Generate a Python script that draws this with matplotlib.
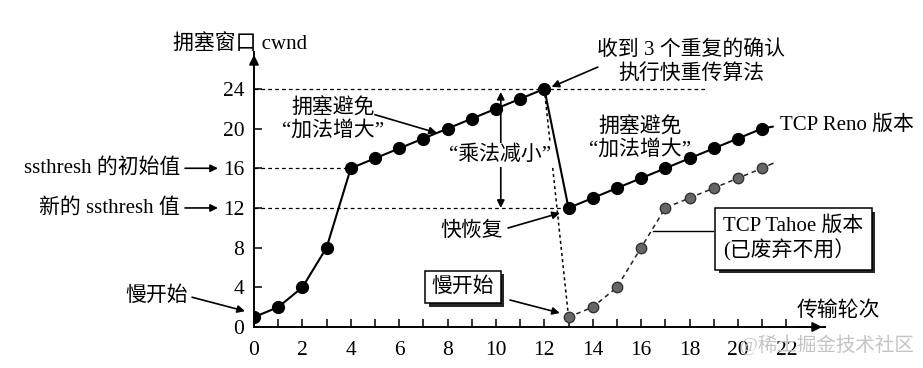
import matplotlib
matplotlib.use("Agg")
import matplotlib.pyplot as plt
import matplotlib.patheffects as pe

plt.rcParams['font.family'] = ['Liberation Serif', 'Noto Sans CJK SC', 'DejaVu Sans']
plt.rcParams['axes.unicode_minus'] = False

# ---- data ----
reno_x = [0, 1, 2, 3, 4, 5, 6, 7, 8, 9, 10, 11, 12]
reno_y = [1, 2, 4, 8, 16, 17, 18, 19, 20, 21, 22, 23, 24]
reno2_x = [13, 14, 15, 16, 17, 18, 19, 20, 21]
reno2_y = [12, 13, 14, 15, 16, 17, 18, 19, 20]
tahoe_x = [13, 14, 15, 16, 17, 18, 19, 20, 21]
tahoe_y = [1, 2, 4, 8, 12, 13, 14, 15, 16]
x_major = [0, 2, 4, 6, 8, 10, 12, 14, 16, 18, 20, 22]
x_minor = [1, 3, 5, 7, 9, 11, 13, 15, 17, 19, 21]
y_ticks = [0, 4, 8, 12, 16, 20, 24]
ssthresh_init = 16
ssthresh_new = 12
peak = 24

W, H = 923, 368
fig = plt.figure(figsize=(W / 100, H / 100), dpi=100)
ax = fig.add_axes([254 / W, 41 / H, 571 / W, 275 / H])
ax.set_xlim(0, 23.6)
ax.set_ylim(0, 27.72)
for s in ['top', 'right']:
    ax.spines[s].set_visible(False)
for s in ['left', 'bottom']:
    ax.spines[s].set_linewidth(1.4)

ax.set_xticks(x_major)
ax.set_xticks(x_minor, minor=True)
ax.set_yticks(y_ticks)
ax.tick_params(axis='both', which='both', direction='in', length=6, width=1.1,
               labelsize=15.5, colors='k')
ax.tick_params(axis='x', pad=10)
ax.tick_params(axis='y', pad=7)

# axis arrows
ax.annotate('', xy=(0, 1.0), xytext=(0, 0.93), xycoords='axes fraction',
            arrowprops=dict(arrowstyle='-|>', color='k', lw=1.4, mutation_scale=14))
ax.annotate('', xy=(1.0, 0), xytext=(0.95, 0), xycoords='axes fraction',
            arrowprops=dict(arrowstyle='-|>', color='k', lw=1.4, mutation_scale=14))

# dashed reference lines
dash = dict(color='k', lw=0.9, ls=(0, (3, 2.5)))
ax.plot([0, 18.7], [peak, peak], **dash)
ax.plot([0, 4], [ssthresh_init, ssthresh_init], **dash)
ax.plot([0, 13], [ssthresh_new, ssthresh_new], **dash)

# Reno lines
ax.plot(reno_x, reno_y, color='k', lw=1.5, zorder=3)
ax.plot([reno_x[-1], reno2_x[0]], [reno_y[-1], reno2_y[0]], color='k', lw=1.5, zorder=3)
ax.plot(reno2_x, reno2_y, color='k', lw=1.5, zorder=3)
ax.plot(reno_x, reno_y, 'o', color='k', ms=8.5, zorder=4)
ax.plot(reno2_x, reno2_y, 'o', color='k', ms=8.5, zorder=4)

# Tahoe
ax.plot([reno_x[-1], tahoe_x[0]], [reno_y[-1], tahoe_y[0]], color='k', lw=1.1,
        ls=(0, (2, 2)), zorder=3)
ax.plot(tahoe_x, tahoe_y, color='#222222', lw=1.1, ls=(0, (3, 2.5)), zorder=3)
ax.plot(tahoe_x, tahoe_y, 'o', color='#666666', mec='#333333', ms=7.5, zorder=4,
        clip_on=False)

# extensions toward labels
ax.annotate('', xy=(reno2_x[-1], reno2_y[-1]), xytext=(21.45, 20.2),
            arrowprops=dict(arrowstyle='-', color='k', lw=1.5, shrinkA=0, shrinkB=0))
ax.annotate('', xy=(tahoe_x[-1], tahoe_y[-1]), xytext=(21.45, 16.5),
            arrowprops=dict(arrowstyle='-', color='#222222', lw=1.1, ls=(0, (3, 2.5)),
                            shrinkA=0, shrinkB=0))

fs = 15
arrow_kw = dict(arrowstyle='-|>', color='k', lw=1.2, mutation_scale=11,
                shrinkA=0, shrinkB=0)

ax.text(-0.58, 28.55, '拥塞窗口 cwnd', fontsize=fs, ha='center', va='center',
        clip_on=False)

ax.text(18.06, 26.7, '收到 3 个重复的确认\n执行快重传算法', fontsize=fs,
        ha='center', va='center', linespacing=1.25, clip_on=False)
ax.annotate('', xy=(12.3, 24.2), xytext=(14.21, 26.2), annotation_clip=False,
            arrowprops=arrow_kw)

ax.text(3.26, 20.87, '拥塞避免\n“加法增大”', fontsize=fs, ha='center', va='center',
        linespacing=1.15)
ax.annotate('', xy=(7.56, 19.56), xytext=(5.0, 21.4), arrowprops=arrow_kw)

ax.annotate('', xy=(10.2, 23.7), xytext=(10.2, 12),
            arrowprops=dict(arrowstyle='<|-|>', color='k', lw=1.2, mutation_scale=11,
                            shrinkA=0, shrinkB=0))
ax.text(10.17, 17.34, '“乘法减小”', fontsize=fs, ha='center', va='center',
        bbox=dict(boxstyle='square,pad=0.1', fc='white', ec='none'), zorder=5)

ax.text(15.95, 18.95, '拥塞避免\n“加法增大”', fontsize=fs, ha='center', va='center',
        linespacing=1.15)

ax.text(21.74, 20.36, 'TCP Reno 版本', fontsize=fs, ha='left', va='center',
        clip_on=False)

ax.text(-3.06, ssthresh_init, 'ssthresh 的初始值', fontsize=fs, ha='right',
        va='center', clip_on=False)
ax.annotate('', xy=(-1.49, ssthresh_init), xytext=(-2.85, ssthresh_init),
            annotation_clip=False, arrowprops=arrow_kw)
ax.text(-3.06, ssthresh_new, '新的 ssthresh 值', fontsize=fs, ha='right',
        va='center', clip_on=False)
ax.annotate('', xy=(-1.49, ssthresh_new), xytext=(-2.85, ssthresh_new),
            annotation_clip=False, arrowprops=arrow_kw)

ax.text(-2.73, 3.1, '慢开始', fontsize=fs, ha='right', va='center', clip_on=False)
ax.annotate('', xy=(-0.37, 1.6), xytext=(-2.56, 3.0), annotation_clip=False,
            arrowprops=arrow_kw)

ax.text(9.0, 9.68, '快恢复', fontsize=fs, ha='center', va='center')
ax.annotate('', xy=(12.64, 11.49), xytext=(10.5, 9.98), arrowprops=arrow_kw)

shadow = [pe.withSimplePatchShadow(offset=(2.5, -2.5), shadow_rgbFace='k', alpha=0.85)]
t1 = ax.text(8.64, 4.03, '慢开始', fontsize=fs, ha='center', va='center',
             bbox=dict(boxstyle='square,pad=0.3', fc='white', ec='k', lw=1.1), zorder=5)
t1.get_bbox_patch().set_path_effects(shadow)
ax.annotate('', xy=(12.64, 1.41), xytext=(10.58, 2.72), arrowprops=arrow_kw)

t2 = ax.text(19.4, 8.87, 'TCP Tahoe 版本\n(已废弃不用）', fontsize=fs, ha='left',
             va='center', linespacing=1.15, clip_on=False,
             bbox=dict(boxstyle='square,pad=0.4', fc='white', ec='k', lw=1.1), zorder=5)
t2.get_bbox_patch().set_path_effects(shadow)
ax.plot([16.49, 18.97], [9.68, 9.68], color='k', lw=1.0)

ax.text(24.17, 1.61, '传输轮次', fontsize=fs, ha='center', va='center', clip_on=False)

ax.text(23.7, -1.8, '@稀土掘金技术社区', fontsize=14, ha='center', va='center',
        color='#c4c4c4', clip_on=False, zorder=6)

fig.savefig('out.png', dpi=100)
